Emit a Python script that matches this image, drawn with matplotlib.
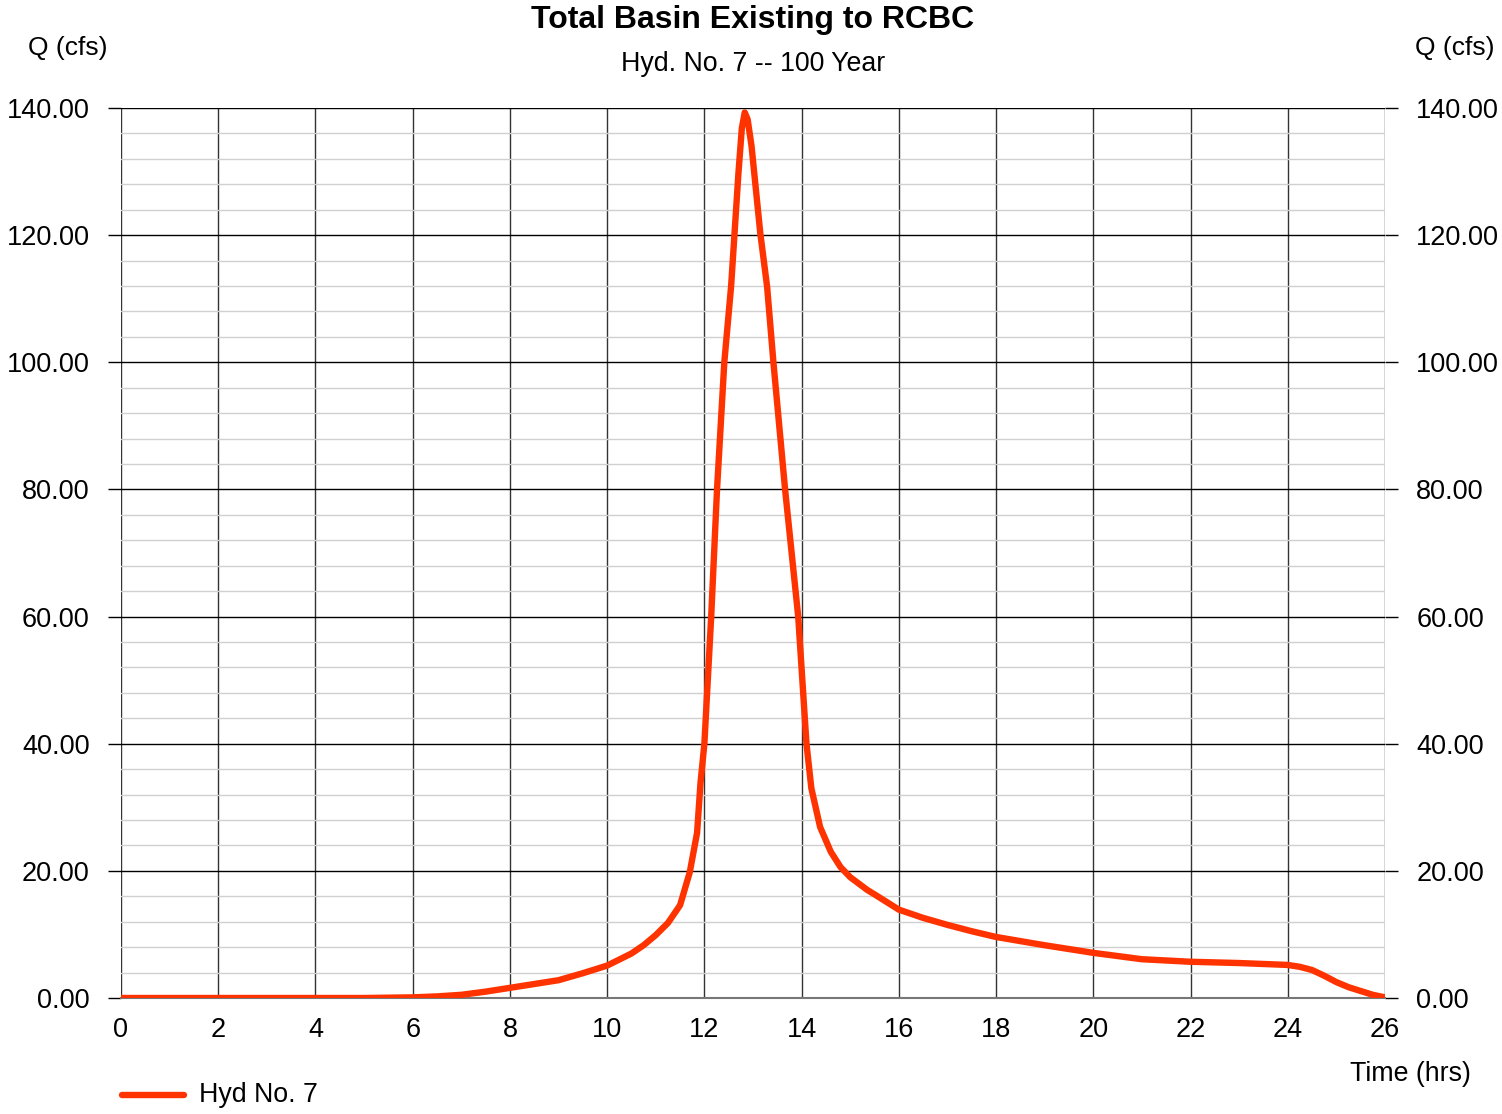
import numpy as np
import matplotlib.pyplot as plt
from matplotlib.ticker import MultipleLocator
from matplotlib.lines import Line2D

plt.rcParams['font.family'] = ['Liberation Sans', 'DejaVu Sans']

# hydrograph (hrs, cfs)
time_hrs = [0, 1, 2, 3, 4, 5, 6, 6.5, 7, 7.5, 8, 8.5, 9, 9.5, 10, 10.5, 10.75,
            11, 11.25, 11.5, 11.7, 11.85, 11.92, 12.0, 12.14, 12.26, 12.41,
            12.55, 12.7, 12.77, 12.83, 12.89, 12.97, 13.15, 13.29, 13.42, 13.66,
            13.93, 14.1, 14.2, 14.38, 14.6, 14.8, 15.0, 15.35, 15.5, 16.0,
            16.5, 17, 17.5, 18, 19, 20, 21, 22, 23, 24, 24.25, 24.5, 24.75,
            25, 25.25, 25.5, 25.75, 26]
flow_cfs = [0, 0, 0, 0, 0, 0, 0.1, 0.25, 0.5, 1.0, 1.6, 2.2, 2.8, 3.9, 5.1,
            7.0, 8.3, 9.9, 11.8, 14.6, 19.8, 26.0, 33.8, 40.0, 60.0, 80.0,
            100.0, 112.0, 129.7, 136.8, 139.3, 138.2, 134.0, 120.3, 111.9,
            100.0, 80.0, 60.0, 40.0, 33.0, 26.9, 23.0, 20.6, 19.0, 17.0, 16.3,
            13.9, 12.6, 11.5, 10.5, 9.6, 8.3, 7.1, 6.1, 5.7, 5.5, 5.2, 4.9,
            4.4, 3.5, 2.5, 1.7, 1.1, 0.5, 0.1]

title = 'Total Basin Existing to RCBC'
subtitle = 'Hyd. No. 7 -- 100 Year'
series_name = 'Hyd No. 7'
line_color = '#ff3300'

fig = plt.figure(figsize=(15.02, 11.14), dpi=100)
ax = fig.add_axes([121 / 1502, 1 - 998 / 1114, (1385 - 121) / 1502, (998 - 108) / 1114])

ax.plot(time_hrs, flow_cfs, color=line_color, lw=4.6, solid_capstyle='round',
        solid_joinstyle='round', zorder=5)

ax.set_xlim(0, 26)
ax.set_ylim(0, 140)
ax.xaxis.set_major_locator(MultipleLocator(2))
ax.yaxis.set_major_locator(MultipleLocator(20))
ax.yaxis.set_minor_locator(MultipleLocator(4))
ax.yaxis.set_major_formatter(lambda v, p: f'{v:.2f}')

ax.grid(which='major', axis='y', color='black', lw=1.0)
ax.grid(which='major', axis='x', color='#333333', lw=1.0)
ax.grid(which='minor', axis='y', color='#d0d0d0', lw=1.0)

for s in ['top', 'right', 'left']:
    ax.spines[s].set_visible(False)
ax.spines['bottom'].set_color('#777777')
ax.spines['bottom'].set_linewidth(1.5)

ax.tick_params(axis='y', which='major', length=9.5, width=1.0, color='black',
               labelsize=19.5, pad=13, left=True, right=True,
               labelleft=True, labelright=True)
ax.tick_params(axis='y', which='minor', length=0)
ax.tick_params(axis='x', length=0, labelsize=19.5, pad=14)

fig.text(753 / 1502, 1 - 20 / 1114, title, ha='center', va='center',
         fontsize=23, fontweight='bold')
fig.text(753 / 1502, 1 - 64 / 1114, subtitle, ha='center', va='center', fontsize=19.3)
fig.text(68 / 1502, 1 - 48 / 1114, 'Q (cfs)', ha='center', va='center', fontsize=19)
fig.text(1455 / 1502, 1 - 48 / 1114, 'Q (cfs)', ha='center', va='center', fontsize=19)
fig.text(1410 / 1502, 1 - 1074 / 1114, 'Time (hrs)', ha='center', va='center', fontsize=19.3)

# legend at lower left, outside the plot
fig.add_artist(Line2D([122 / 1502, 184 / 1502], [1 - 1095 / 1114] * 2,
                      color=line_color, lw=4.6, solid_capstyle='round',
                      transform=fig.transFigure))
fig.text(199 / 1502, 1 - 1095 / 1114, series_name, ha='left', va='center', fontsize=19.3)

fig.savefig('out.png', dpi=100)
